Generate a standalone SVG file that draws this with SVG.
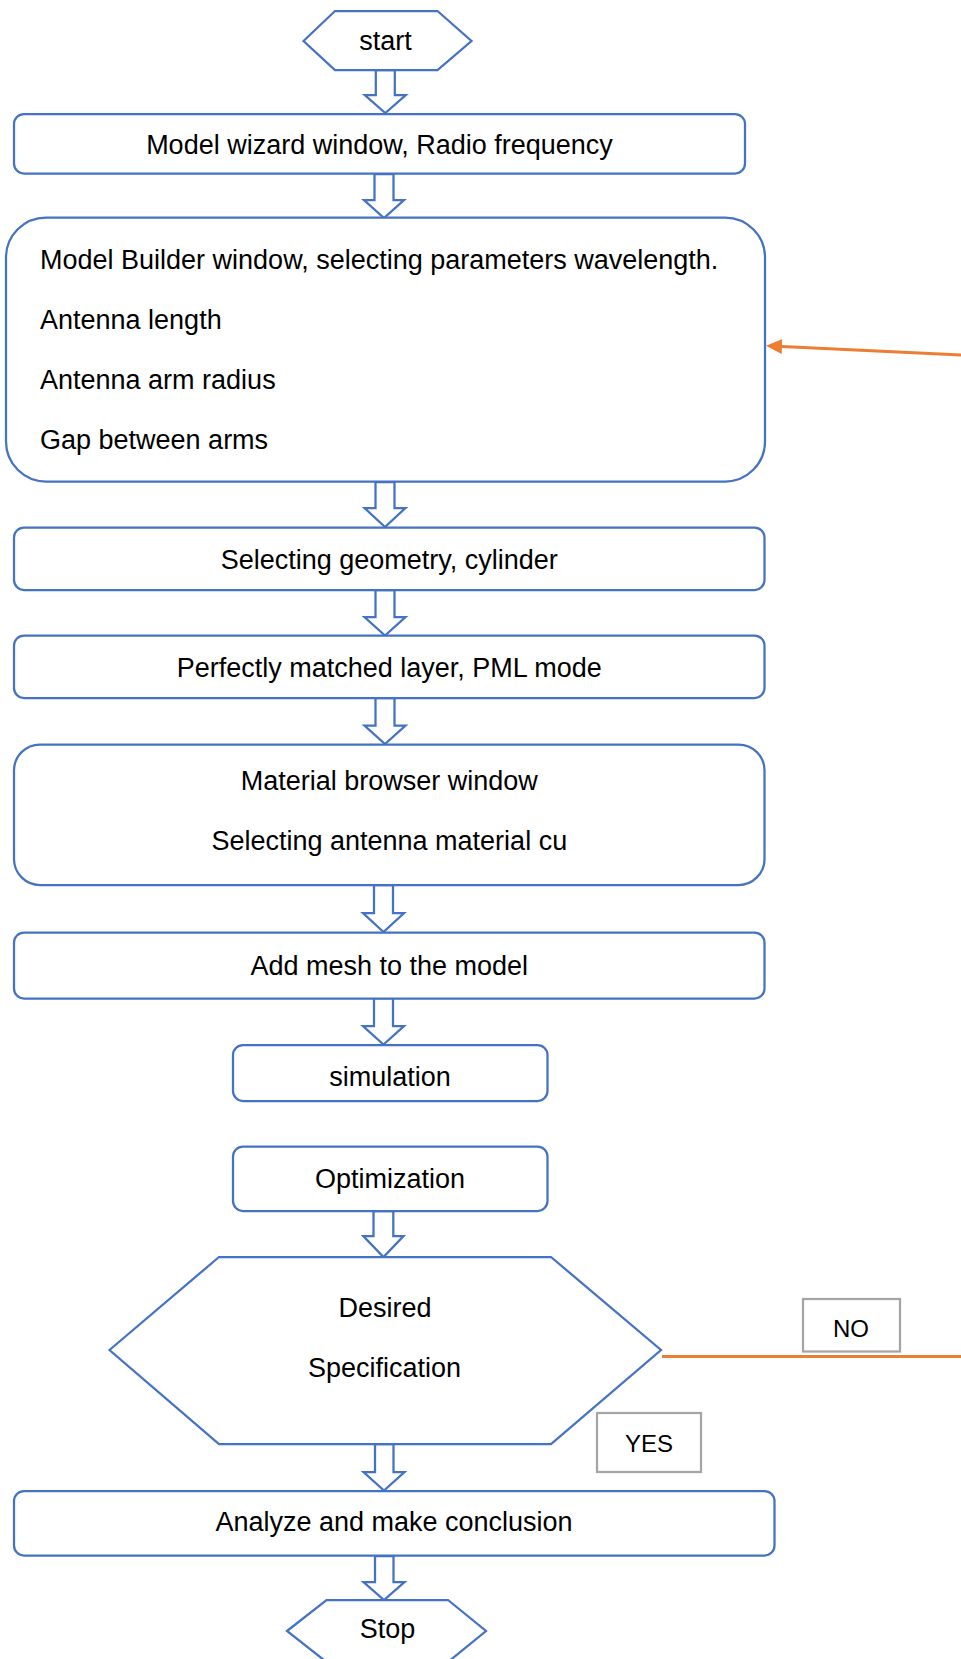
<svg xmlns="http://www.w3.org/2000/svg" width="961" height="1659" viewBox="0 0 961 1659">
<defs>
<style>
.box{fill:#fff;stroke:#4472C4;stroke-width:2.25}
.arr{fill:#fff;stroke:#4472C4;stroke-width:2.25;stroke-linejoin:miter}
.t{font-family:"Liberation Sans",Arial,sans-serif;font-size:27px;fill:#000}
.c{text-anchor:middle}
.lbl{fill:#fff;stroke:#A5A5A5;stroke-width:2.25}
.lt{font-family:"Liberation Sans",Arial,sans-serif;font-size:24px;fill:#000;text-anchor:middle}
.loop{fill:none;stroke:#ED7D31;stroke-width:3}
</style>
<marker id="oh" markerUnits="userSpaceOnUse" markerWidth="18" markerHeight="16" refX="0" refY="7.5" orient="auto" viewBox="0 0 18 16">
<path d="M0,0 L16,7.5 L0,15 Z" fill="#ED7D31"/>
</marker>
</defs>
<rect width="961" height="1659" fill="#fff"/>

<g id="connectors">
<polygon class="arr" points="375.8,70 394.8,70 394.8,95 405.8,95 385.3,113 364.8,95 375.8,95"/>
<polygon class="arr" points="374.5,174 393.5,174 393.5,200 404,200 384,218 364,200 374.5,200"/>
<polygon class="arr" points="375.5,482 394.5,482 394.5,508 405.5,508 385,527 364.5,508 375.5,508"/>
<polygon class="arr" points="375.5,590 394.5,590 394.5,617 405.5,617 385,635.5 364.5,617 375.5,617"/>
<polygon class="arr" points="375.5,698 394.5,698 394.5,725.5 405.5,725.5 385,744 364.5,725.5 375.5,725.5"/>
<polygon class="arr" points="374,885 393,885 393,913 404,913 383.5,932 363,913 374,913"/>
<polygon class="arr" points="374,998 393,998 393,1026 404,1026 383.5,1044.5 363,1026 374,1026"/>
<polygon class="arr" points="373.5,1211 393.3,1211 393.3,1236 403.5,1236 383.5,1257 363.3,1236 373.5,1236"/>
<polygon class="arr" points="375,1444 393.5,1444 393.5,1472 404.5,1472 384,1490.5 363.5,1472 375,1472"/>
<polygon class="arr" points="375,1556 393.5,1556 393.5,1582 404.5,1582 384,1600 363.5,1582 375,1582"/>
<path class="loop" d="M662,1356.5 H990 V356.4 L782,346.5" marker-end="url(#oh)"/>
</g>

<g id="start">
<polygon class="box" points="303.5,41 335,11 437.5,11 471.5,41 437.5,70 335,70"/>
<text class="t c" x="385.5" y="49.5">start</text>
</g>

<g id="wizard">
<rect class="box" x="14" y="114" width="731" height="59.5" rx="10"/>
<text class="t c" x="379.5" y="154">Model wizard window, Radio frequency</text>
</g>

<g id="builder">
<rect class="box" x="6" y="217.5" width="759" height="264" rx="40"/>
<text class="t" x="40" y="269.3">Model Builder window, selecting parameters wavelength.</text>
<text class="t" x="40" y="328.7">Antenna length</text>
<text class="t" x="40" y="389">Antenna arm radius</text>
<text class="t" x="40" y="448.7">Gap between arms</text>
</g>

<g id="geometry">
<rect class="box" x="14" y="527.5" width="750.5" height="62.5" rx="10"/>
<text class="t c" x="389.3" y="569.3">Selecting geometry, cylinder</text>
</g>

<g id="pml">
<rect class="box" x="14" y="635.5" width="750.5" height="62.5" rx="10"/>
<text class="t c" x="389.3" y="676.7">Perfectly matched layer, PML mode</text>
</g>

<g id="material">
<rect class="box" x="14" y="744.5" width="750.5" height="140.5" rx="26"/>
<text class="t c" x="389.3" y="790">Material browser window</text>
<text class="t c" x="389.3" y="850">Selecting antenna material cu</text>
</g>

<g id="mesh">
<rect class="box" x="14" y="932.5" width="750.5" height="66" rx="10"/>
<text class="t c" x="389.3" y="975">Add mesh to the model</text>
</g>

<g id="simulation">
<rect class="box" x="233" y="1045" width="314.5" height="56" rx="10"/>
<text class="t c" x="390" y="1086">simulation</text>
</g>

<g id="optimization">
<rect class="box" x="233" y="1146.5" width="314.5" height="64.5" rx="10"/>
<text class="t c" x="390" y="1188.3">Optimization</text>
</g>

<g id="decision">
<polygon class="box" points="109.5,1350 219,1257 551,1257 661,1350 551,1444 219,1444"/>
<text class="t c" x="385" y="1317.3">Desired</text>
<text class="t c" x="384.5" y="1376.7">Specification</text>
</g>

<g id="no-label">
<rect class="lbl" x="803" y="1299" width="97" height="52.5"/>
<text class="lt" x="851" y="1336.7">NO</text>
</g>

<g id="yes-label">
<rect class="lbl" x="597" y="1413" width="104" height="59"/>
<text class="lt" x="649" y="1451.7">YES</text>
</g>

<g id="analyze">
<rect class="box" x="14" y="1491" width="760.5" height="64.5" rx="10"/>
<text class="t c" x="394" y="1531">Analyze and make conclusion</text>
</g>

<g id="stop">
<polygon class="box" points="287,1631 326.5,1600 448,1600 486,1631 448,1662 326.5,1662"/>
<text class="t c" x="387.5" y="1638.3">Stop</text>
</g>
</svg>
